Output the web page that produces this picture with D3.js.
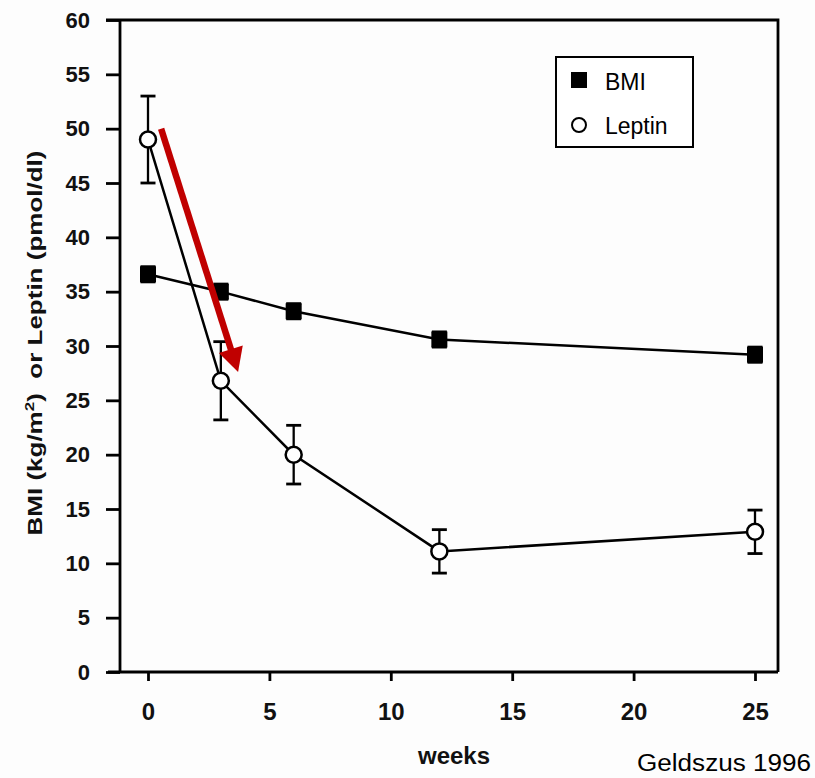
<!DOCTYPE html>
<html>
<head>
<meta charset="utf-8">
<script src="https://cdn.jsdelivr.net/npm/d3@7"></script>
<style>
  html, body { margin: 0; padding: 0; background: #fdfdfd; }
  svg { display: block; }
  .tick text { font-family: "Liberation Sans", Arial, sans-serif; font-weight: bold; }
</style>
</head>
<body>
<svg id="chart" width="815" height="778"></svg>
<script>
// Weeks of follow-up
const weeks = [0, 3, 6, 12, 25];
// BMI (kg/m²) mean and SEM
const bmiValues = [36.6, 35.0, 33.2, 30.6, 29.2];
const bmiErrors = [0.7, 0.7, 0.7, 0.7, 0.7];
// Leptin (pmol/dl) mean and SEM
const leptinValues = [49.0, 26.8, 20.0, 11.1, 12.9];
const leptinErrors = [4.0, 3.6, 2.7, 2.0, 2.0];
// Axis ticks
const xTicks = [0, 5, 10, 15, 20, 25];
const yTicks = [0, 5, 10, 15, 20, 25, 30, 35, 40, 45, 50, 55, 60];
// Emphasis arrow, in data units: [week, value]
const arrowStart = [0.54, 50.0];
const arrowEnd = [3.71, 27.6];

const svg = d3.select("#chart");
const plotLeft = 120, plotRight = 778, plotTop = 20, plotBottom = 672;
const FONT = "Liberation Sans, Arial, sans-serif";

const x = d3.scaleLinear().domain([0, 25]).range([148, 755]);
const y = d3.scaleLinear().domain([0, 60]).range([plotBottom, plotTop]);

// Frame (top and right sides)
svg.append("path")
  .attr("d", `M${plotLeft - 14},${plotTop} H${plotRight} V${plotBottom}`)
  .attr("fill", "none").attr("stroke", "#000").attr("stroke-width", 2.8);

// Y axis
const yAxis = svg.append("g")
  .attr("transform", `translate(${plotLeft},0)`)
  .call(d3.axisLeft(y).tickValues(yTicks).tickSize(14).tickPadding(16));
yAxis.select(".domain").attr("stroke-width", 2.8).attr("d", `M0,${plotTop}V${plotBottom}`);
yAxis.selectAll(".tick line").attr("stroke-width", 2.8);
yAxis.selectAll(".tick text").attr("font-size", 22).attr("fill", "#111");

// X axis
const xAxis = svg.append("g")
  .attr("transform", `translate(0,${plotBottom})`)
  .call(d3.axisBottom(x).tickValues(xTicks).tickSize(9).tickPadding(22));
xAxis.select(".domain").attr("stroke-width", 2.8).attr("d", `M${plotLeft - 12},0H${plotRight}`);
xAxis.selectAll(".tick line").attr("stroke-width", 2.8);
xAxis.selectAll(".tick text").attr("font-size", 24).attr("fill", "#111");

// Axis titles
svg.append("text")
  .attr("x", 454).attr("y", 764)
  .attr("text-anchor", "middle")
  .attr("font-family", FONT)
  .attr("font-weight", "bold").attr("font-size", 24).attr("fill", "#111")
  .text("weeks");

const yTitle = svg.append("text")
  .attr("transform", "translate(42,343) rotate(-90)")
  .attr("text-anchor", "middle")
  .attr("font-family", FONT)
  .attr("font-weight", "bold").attr("font-size", 20).attr("fill", "#111")
  .attr("textLength", 385).attr("lengthAdjust", "spacingAndGlyphs");
yTitle.append("tspan").text("BMI (kg/m");
yTitle.append("tspan").attr("font-size", 13).attr("dy", -8).text("2");
yTitle.append("tspan").attr("dy", 8).text(")\u00a0\u00a0or Leptin (pmol/dl)");

const line = d3.line().x(d => x(d[0])).y(d => y(d[1]));

function drawSeries(values, errors, marker) {
  const pts = weeks.map((w, i) => [w, values[i], errors[i]]);
  const g = svg.append("g");
  g.append("path").datum(pts).attr("d", line)
    .attr("fill", "none").attr("stroke", "#000").attr("stroke-width", 2.5);
  const eb = g.selectAll(".err").data(pts).join("g");
  eb.append("line")
    .attr("x1", d => x(d[0])).attr("x2", d => x(d[0]))
    .attr("y1", d => y(d[1] - d[2])).attr("y2", d => y(d[1] + d[2]))
    .attr("stroke", "#000").attr("stroke-width", 2.3);
  [-1, 1].forEach(s => {
    eb.append("line")
      .attr("x1", d => x(d[0]) - 7.5).attr("x2", d => x(d[0]) + 7.5)
      .attr("y1", d => y(d[1] + s * d[2])).attr("y2", d => y(d[1] + s * d[2]))
      .attr("stroke", "#000").attr("stroke-width", 2.8);
  });
  if (marker === "square") {
    g.selectAll(".m").data(pts).join("rect")
      .attr("x", d => x(d[0]) - 8).attr("y", d => y(d[1]) - 8)
      .attr("width", 16).attr("height", 16).attr("fill", "#000");
  } else {
    g.selectAll(".m").data(pts).join("circle")
      .attr("cx", d => x(d[0])).attr("cy", d => y(d[1])).attr("r", 8)
      .attr("fill", "#fff").attr("stroke", "#000").attr("stroke-width", 2.5);
  }
}

drawSeries(bmiValues, bmiErrors, "square");
drawSeries(leptinValues, leptinErrors, "circle");

// Red arrow marking the early leptin drop
{
  const x0 = x(arrowStart[0]), y0 = y(arrowStart[1]);
  const x1 = x(arrowEnd[0]), y1 = y(arrowEnd[1]);
  const len = Math.hypot(x1 - x0, y1 - y0);
  const ux = (x1 - x0) / len, uy = (y1 - y0) / len;
  const headLen = 24, headHalf = 12.5;
  const bx = x1 - ux * headLen, by = y1 - uy * headLen;
  svg.append("line")
    .attr("x1", x0).attr("y1", y0).attr("x2", bx + ux * 2).attr("y2", by + uy * 2)
    .attr("stroke", "#c00000").attr("stroke-width", 6.5);
  svg.append("path")
    .attr("d", `M${x1},${y1} L${bx - uy * headHalf},${by + ux * headHalf} L${bx + uy * headHalf},${by - ux * headHalf} Z`)
    .attr("fill", "#c00000");
}

// Legend
const lg = svg.append("g").attr("transform", "translate(556,57)");
lg.append("rect").attr("width", 137).attr("height", 90)
  .attr("fill", "#fff").attr("stroke", "#000").attr("stroke-width", 2);
lg.append("rect").attr("x", 15).attr("y", 15).attr("width", 16).attr("height", 16).attr("fill", "#000");
lg.append("circle").attr("cx", 23).attr("cy", 68).attr("r", 7)
  .attr("fill", "#fff").attr("stroke", "#000").attr("stroke-width", 2);
lg.append("text").attr("x", 49).attr("y", 33)
  .attr("font-family", FONT).attr("font-size", 23).text("BMI");
lg.append("text").attr("x", 49).attr("y", 77)
  .attr("font-family", FONT).attr("font-size", 23).text("Leptin");

// Source note
svg.append("text")
  .attr("x", 637).attr("y", 771)
  .attr("font-family", FONT).attr("font-size", 23)
  .attr("textLength", 174).attr("lengthAdjust", "spacingAndGlyphs")
  .text("Geldszus 1996");
</script>
</body>
</html>
